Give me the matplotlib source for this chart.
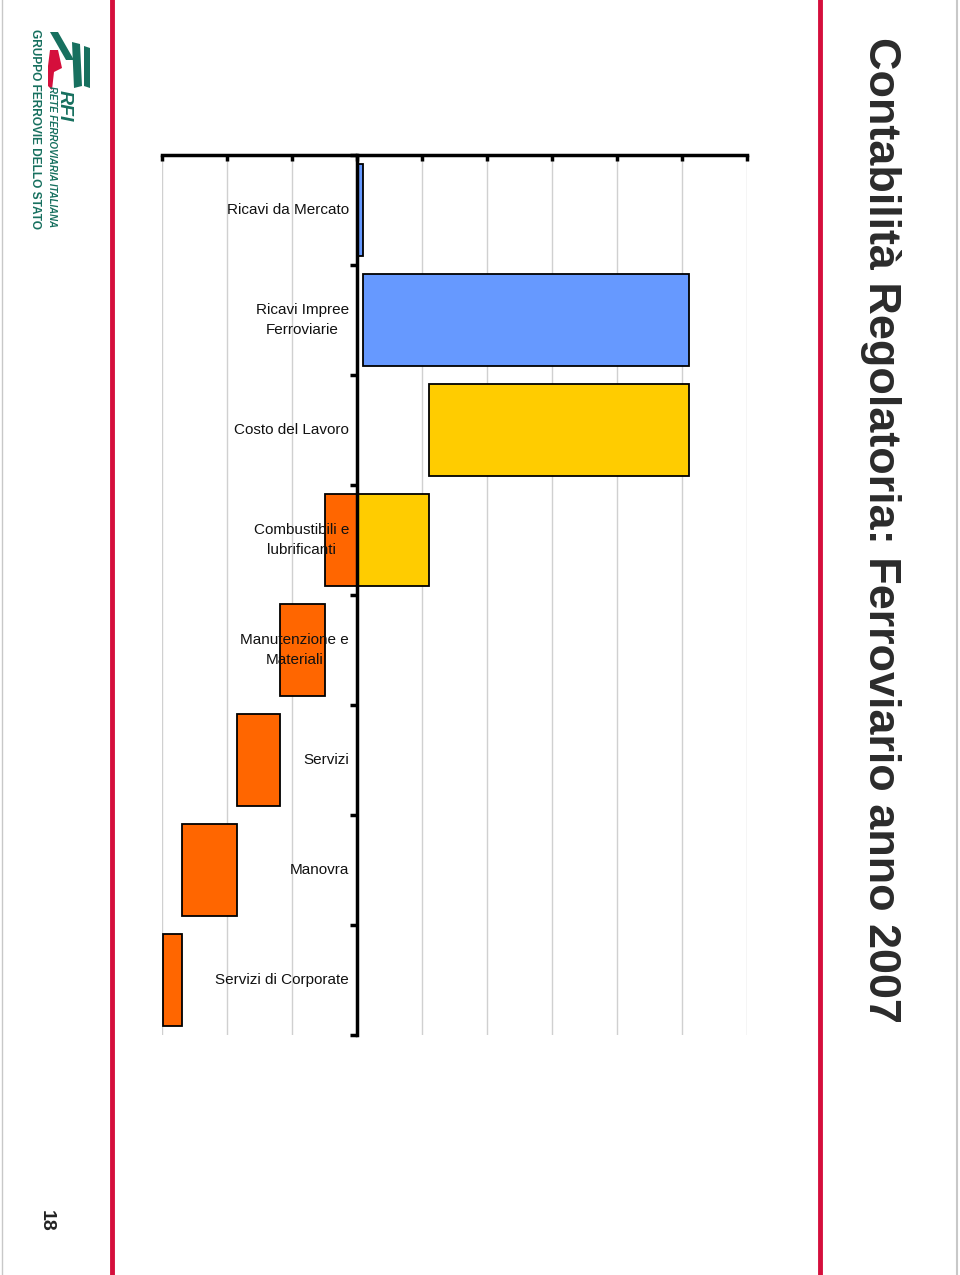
import matplotlib
matplotlib.use("Agg")
import matplotlib.pyplot as plt
from matplotlib.patches import Polygon
import numpy as np

plt.rcParams['font.family'] = ['Liberation Sans', 'DejaVu Sans']

categories = ["Ricavi da Mercato", "Ricavi Impree\nFerroviarie", "Costo del Lavoro",
              "Combustibili e\nlubrificanti", "Manutenzione e\nMateriali", "Servizi",
              "Manovra", "Servizi di Corporate"]
values = [9, 502, -400, -160, -69, -66, -86, -29]
kinds = ["ricavo", "ricavo", "costo", "costo", "costo", "costo", "costo", "costo"]

title = "Contabilità Regolatoria: Ferroviario anno 2007"
page_number = "18"

C_BLUE = "#6699FF"
C_YELLOW = "#FFCC00"
C_ORANGE = "#FF6600"
C_RED = "#D50F3C"
C_TEAL = "#17705F"

W, H = 960, 1275
fig = plt.figure(figsize=(W / 100, H / 100), dpi=100)

def fx(px):
    return px / W

def fy(py):
    return 1 - py / H

# axes position in pixels: left 162, right 747, top 155, bottom 1035
ax = fig.add_axes([fx(162), fy(1035), fx(747) - fx(162), fy(155) - fy(1035)])
ax.set_xlim(-300, 600)
ax.set_ylim(len(categories) - 0.5, -0.5)

for g in np.arange(-300, 601, 100):
    ax.axvline(g, color="#D0D0D0", lw=1, zorder=0)

bar_h = 0.84
cum = 0.0
for i, (v, k) in enumerate(zip(values, kinds)):
    start, end = cum, cum + v
    lo, hi = min(start, end), max(start, end)
    if k == "ricavo":
        ax.barh(i, hi - lo, left=lo, height=bar_h, color=C_BLUE, edgecolor="black", lw=1.3, zorder=2)
    else:
        if hi > 0:
            plo = max(lo, 0)
            ax.barh(i, hi - plo, left=plo, height=bar_h, color=C_YELLOW, edgecolor="black", lw=1.3, zorder=2)
        if lo < 0:
            nhi = min(hi, 0)
            ax.barh(i, nhi - lo, left=lo, height=bar_h, color=C_ORANGE, edgecolor="black", lw=1.3, zorder=2)
    cum = end

for s in ["right", "bottom"]:
    ax.spines[s].set_visible(False)
ax.spines["left"].set_position(("data", 0))
ax.spines["left"].set_linewidth(2.5)
ax.spines["left"].set_zorder(3)
ax.spines["top"].set_linewidth(2.5)

ax.xaxis.tick_top()
ax.set_xticks(np.arange(-300, 601, 100))
ax.set_xticklabels([])
ax.tick_params(axis="x", direction="in", length=4, width=2.5)
ax.set_yticks(np.arange(-0.5, len(categories), 1.0))
ax.set_yticklabels([])
ax.tick_params(axis="y", direction="out", length=5, width=2.5)

for i, c in enumerate(categories):
    ax.text(-12, i, c, ha="right", va="center", multialignment="center",
            fontsize=11, color="#111111", zorder=5, linespacing=1.55)

# page decorations
fig.add_artist(plt.Line2D([fx(112), fx(112)], [0, 1], color=C_RED, lw=3.5))
fig.add_artist(plt.Line2D([fx(820), fx(820)], [0, 1], color=C_RED, lw=3.5))
fig.add_artist(plt.Line2D([fx(2), fx(2)], [0, 1], color="#C8C8C8", lw=1))
fig.add_artist(plt.Line2D([fx(957), fx(957)], [0, 1], color="#C8C8C8", lw=1.5))

fig.text(fx(880), fy(530), title, rotation=270, ha="center", va="center",
         fontsize=32.4, fontweight="bold", color="#2B2B2B")
fig.text(fx(46), fy(1221), page_number, rotation=270, ha="center", va="center",
         fontsize=14, fontweight="bold", color="#222222")

# logo
fig.text(fx(35), fy(129), "GRUPPO FERROVIE DELLO STATO", rotation=270, ha="center", va="center",
         fontsize=8.6, fontweight="bold", color=C_TEAL)
fig.text(fx(52), fy(157), "RETE FERROVIARIA ITALIANA", rotation=270, ha="center", va="center",
         fontsize=6.9, fontweight="bold", style="italic", color=C_TEAL)
fig.text(fx(64), fy(106), "RFI", rotation=270, ha="center", va="center",
         fontsize=14, fontweight="bold", style="italic", color=C_TEAL)

def poly(pts, color):
    fig.add_artist(Polygon([(fx(x), fy(y)) for x, y in pts], closed=True,
                           transform=fig.transFigure, color=color, lw=0))

poly([(50, 32), (58, 32), (74, 60), (66, 60)], C_TEAL)
poly([(50, 50), (58, 50), (62, 68), (54, 72), (52, 90), (48, 86), (48, 66)], C_RED)
poly([(72, 42), (80, 44), (82, 86), (74, 88)], C_TEAL)
poly([(84, 46), (90, 48), (90, 88), (84, 86)], C_TEAL)

fig.savefig("out.png", dpi=100, facecolor="white")
